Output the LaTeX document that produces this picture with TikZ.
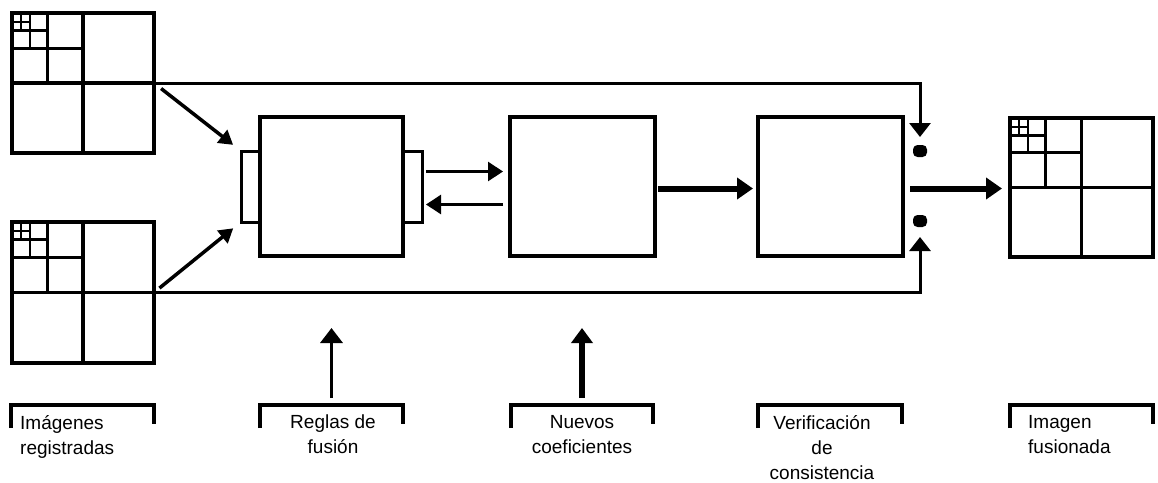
\documentclass[tikz,border=0pt]{standalone}
\usepackage{fontspec}
\setmainfont{Liberation Sans}
\usetikzlibrary{arrows.meta,calc,positioning}

\tikzstyle{blockbox} = [draw=black, line width=3.5pt, rectangle,
    inner sep=0pt, outer sep=0pt]
\tikzstyle{tabbox} = [draw=black, line width=3pt, rectangle,
    inner sep=0pt, outer sep=0pt, minimum width=19pt, minimum height=71pt]
\tikzstyle{switchmark} = [fill=black, rectangle, rounded corners=4.5pt,
    minimum width=14pt, minimum height=12pt, inner sep=0pt, outer sep=0pt]
\tikzstyle{bracketbox} = [rectangle, inner sep=0pt, outer sep=0pt,
    minimum height=23pt, anchor=north]
\tikzstyle{bracketline} = [line width=3.5pt]
\tikzstyle{captiontext} = [inner sep=0pt, font=\fontsize{19}{25}\selectfont]
\tikzstyle{diagarrow} = [line width=3.5pt, -{Triangle[length=14pt,width=16pt]}]
\tikzstyle{bypass} = [line width=3pt, -{Triangle[length=14pt,width=21pt]}]
\tikzstyle{thinarrow} = [line width=2.8pt, -{Triangle[length=15pt,width=19pt]}]
\tikzstyle{thickarrow} = [line width=6pt, -{Triangle[length=16pt,width=21pt]}]
\tikzstyle{uparrow} = [line width=3.5pt, -{Triangle[length=15pt,width=22pt]}]
\tikzstyle{uparrowthick} = [line width=6pt, -{Triangle[length=15pt,width=21pt]}]

% quadtree split of a picture node
\newcommand{\quadtree}[1]{%
  \foreach \s/\w in {0.5/3.2,0.25/3,0.125/2.4,0.0625/1.8}{%
    \coordinate (qt) at ($(#1.north west)!\s!(#1.north east)$);
    \coordinate (qb) at ($(#1.north west)!2*\s!(#1.south west)$);
    \coordinate (ql) at ($(#1.north west)!\s!(#1.south west)$);
    \coordinate (qr) at ($(#1.north west)!2*\s!(#1.north east)$);
    \draw[line width=\w pt] (qt) -- (qt |- qb) (ql) -- (ql -| qr);
  }}
\newcommand{\capbracket}[1]{%
  \draw[bracketline] ([yshift=-23pt]#1.north west) -- (#1.north west)
    -- (#1.north east) -- ([yshift=-19pt]#1.north east);}

\begin{document}
\begin{tikzpicture}[x=1pt,y=-1pt]
\useasboundingbox (0,0) rectangle (1158,482);

% pictures
\node[blockbox, minimum width=142pt, minimum height=140pt] (img1) at (83,83) {};
\node[blockbox, minimum width=142pt, minimum height=141pt] (img2) at (83,292.5) {};
\quadtree{img1}
\quadtree{img2}

% stages
\node[blockbox, minimum width=143pt, minimum height=139pt] (fus) at (331.5,186.5) {};
\node[tabbox, left=0pt of fus] (tabL) {};
\node[tabbox, right=0pt of fus] (tabR) {};
\node[blockbox, minimum width=145pt, minimum height=139pt] (coef) at (582.5,186.5) {};
\node[blockbox, minimum width=145pt, minimum height=139pt] (verif) at (830.5,186.5) {};
\node[blockbox, minimum width=143pt, minimum height=139pt] (out) at (1081.5,187.5) {};
\quadtree{out}

\node[switchmark] (sw1) at (920,151) {};
\node[switchmark] (sw2) at (920,221) {};

% connectors
\draw[diagarrow, shorten <=9pt, shorten >=10pt] (img1.east) -- (tabL.north west);
\draw[diagarrow, shorten <=7pt, shorten >=10pt] (img2.east) -- (tabL.south west);
\draw[bypass, shorten >=8pt] (img1.east) -| (sw1);
\draw[bypass, shorten >=10pt] (img2.east) -| (sw2);
\draw[thinarrow] ([xshift=4pt,yshift=15pt]tabR.east) -- ([xshift=-7pt,yshift=15pt]coef.west);
\draw[thinarrow] ([xshift=-7pt,yshift=-18pt]coef.west) -- ([xshift=4pt,yshift=-18pt]tabR.east);
\draw[thickarrow, shorten <=3pt, shorten >=5pt] ([yshift=-2pt]coef.east) -- ([yshift=-2pt]verif.west);
\draw[thickarrow, shorten <=7pt, shorten >=8pt] ([yshift=-2pt]verif.east) -- ([yshift=-1pt]out.west);

% captions
\node[bracketbox, minimum width=143pt] (brImg) at (82.5,405) {};
\node[bracketbox, minimum width=143pt] (brFus) at (331.5,405) {};
\node[bracketbox, minimum width=142pt] (brCoef) at (582,405) {};
\node[bracketbox, minimum width=144pt] (brVerif) at (830,405) {};
\node[bracketbox, minimum width=143pt] (brOut) at (1081.5,405) {};
\capbracket{brImg}
\capbracket{brFus}
\capbracket{brCoef}
\capbracket{brVerif}
\capbracket{brOut}

\node[captiontext, align=left, anchor=north west] (capImg) at (20,415) {Imágenes\\registradas};
\node[captiontext, align=center, anchor=north] (capFus) at (333,415) {Reglas de\\fusión};
\node[captiontext, align=center, anchor=north] (capCoef) at (582,415) {Nuevos\\coeficientes};
\node[captiontext, align=center, anchor=north] (capVerif) at (822,415) {Verificación\\de\\consistencia};
\node[captiontext, align=left, anchor=north west] (capOut) at (1028,415) {Imagen\\fusionada};

\coordinate (inFus) at (331.5,328);
\coordinate (inCoef) at (582,328);
\draw[uparrow, shorten <=7pt] (brFus.north) -- (inFus);
\draw[uparrowthick, shorten <=7pt] (brCoef.north) -- (inCoef);
\end{tikzpicture}
\end{document}
